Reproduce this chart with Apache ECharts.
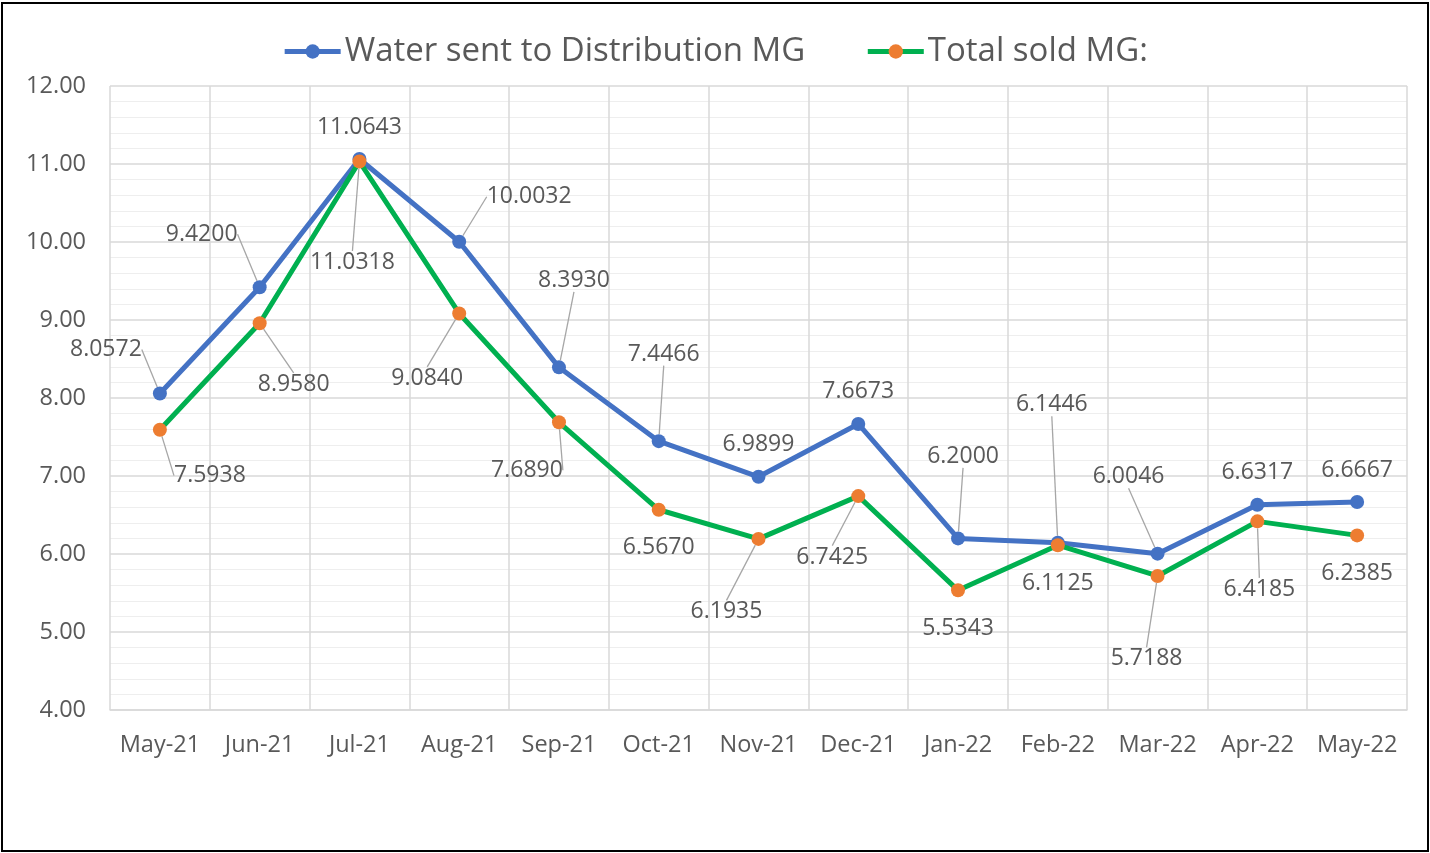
<!DOCTYPE html>
<html><head><meta charset="utf-8">
<script src="https://cdn.jsdelivr.net/npm/echarts@6/dist/echarts.min.js"></script>
<style>html,body{margin:0;padding:0;background:#fff}#c{width:1430px;height:853px}</style>
</head><body><div id="c"></div>
<script>
const categories = ['May-21','Jun-21','Jul-21','Aug-21','Sep-21','Oct-21','Nov-21','Dec-21','Jan-22','Feb-22','Mar-22','Apr-22','May-22'];
const waterSent = [8.0572, 9.4200, 11.0643, 10.0032, 8.3930, 7.4466, 6.9899, 7.6673, 6.2000, 6.1446, 6.0046, 6.6317, 6.6667];
const totalSold = [7.5938, 8.9580, 11.0318, 9.0840, 7.6890, 6.5670, 6.1935, 6.7425, 5.5343, 6.1125, 5.7188, 6.4185, 6.2385];
const yTicks = [4, 5, 6, 7, 8, 9, 10, 11, 12];
const seriesNames = ['Water sent to Distribution MG', 'Total sold MG:'];

// label layout (offset of label centre from its point, in px) and leader-line flags
const blueOffsets = [[-54,-45],[-58,-54],[0,-33],[70,-46],[15,-88],[5,-88],[0,-33],[0,-33],[5,-83],[-6,-139],[-29,-78],[0,-33],[0,-33]];
const blueLeader  = [1,1,0,1,1,1,0,0,1,1,1,0,0];
const greenOffsets = [[50,45],[34,60],[-7,100],[-32,64],[-32,47],[0,37],[-32,72],[-26,60],[0,37],[0,37],[-11,82],[2,67],[0,37]];
const greenLeader  = [1,1,1,1,1,0,1,1,0,0,1,1,0];

const FONT = '"Open Sans", "Noto Sans", sans-serif';
const TXT = '#595959';

function buildData(vals, leader) {
  return vals.map((v, i) => ({ value: v, labelLine: { show: !!leader[i] } }));
}

const chart = echarts.init(document.getElementById('c'));
chart.setOption({
  animation: false,
  textStyle: { fontFamily: FONT },
  graphic: [{
    type: 'rect', z: 100, silent: true,
    shape: { x: 2, y: 3, width: 1426, height: 848 },
    style: { fill: 'none', stroke: '#000', lineWidth: 2 }
  }],
  legend: {
    top: 30, left: 'center',
    itemWidth: 56, itemHeight: 18, itemGap: 60,
    lineStyle: { width: 5 },
    textStyle: { fontSize: 33, color: TXT, fontFamily: FONT, padding: [0,0,0,-1] },
    data: seriesNames
  },
  grid: { left: 110, right: 23, top: 86, bottom: 143, containLabel: false },
  xAxis: {
    type: 'category', data: categories, boundaryGap: true,
    axisLine: { show: true, lineStyle: { color: '#d9d9d9', width: 1.5 } },
    axisTick: { show: false },
    axisLabel: { color: TXT, fontSize: 23.5, margin: 23, fontFamily: FONT, interval: 0 },
    splitLine: { show: true, lineStyle: { color: '#d9d9d9', width: 1.5 } }
  },
  yAxis: {
    type: 'value', min: yTicks[0], max: yTicks[yTicks.length-1], interval: 1,
    axisLine: { show: false }, axisTick: { show: false },
    axisLabel: { color: TXT, fontSize: 23.5, margin: 24, fontFamily: FONT, formatter: v => v.toFixed(2) },
    splitLine: { show: true, lineStyle: { color: '#d9d9d9', width: 1.5 } },
    minorTick: { show: false, splitNumber: 5 },
    minorSplitLine: { show: true, lineStyle: { color: '#eeeeee', width: 1.2 } }
  },
  series: [
    {
      name: seriesNames[0], type: 'line', data: buildData(waterSent, blueLeader),
      symbol: 'circle', symbolSize: 14,
      lineStyle: { color: '#4472c4', width: 5 },
      itemStyle: { color: '#4472c4' },
      label: { show: true, position: 'inside', color: TXT, fontSize: 23, fontFamily: FONT, formatter: p => p.value.toFixed(4) },
      labelLine: { show: true, lineStyle: { color: '#a6a6a6', width: 1.3 } },
      labelLayout: p => ({ dx: blueOffsets[p.dataIndex][0], dy: blueOffsets[p.dataIndex][1] + 1 })
    },
    {
      name: seriesNames[1], type: 'line', data: buildData(totalSold, greenLeader),
      symbol: 'circle', symbolSize: 14,
      lineStyle: { color: '#00b050', width: 5 },
      itemStyle: { color: '#ed7d31' },
      label: { show: true, position: 'inside', color: TXT, fontSize: 23, fontFamily: FONT, formatter: p => p.value.toFixed(4) },
      labelLine: { show: true, lineStyle: { color: '#a6a6a6', width: 1.3 } },
      labelLayout: p => ({ dx: greenOffsets[p.dataIndex][0], dy: greenOffsets[p.dataIndex][1] + 1 })
    }
  ]
});
</script>
</body></html>
